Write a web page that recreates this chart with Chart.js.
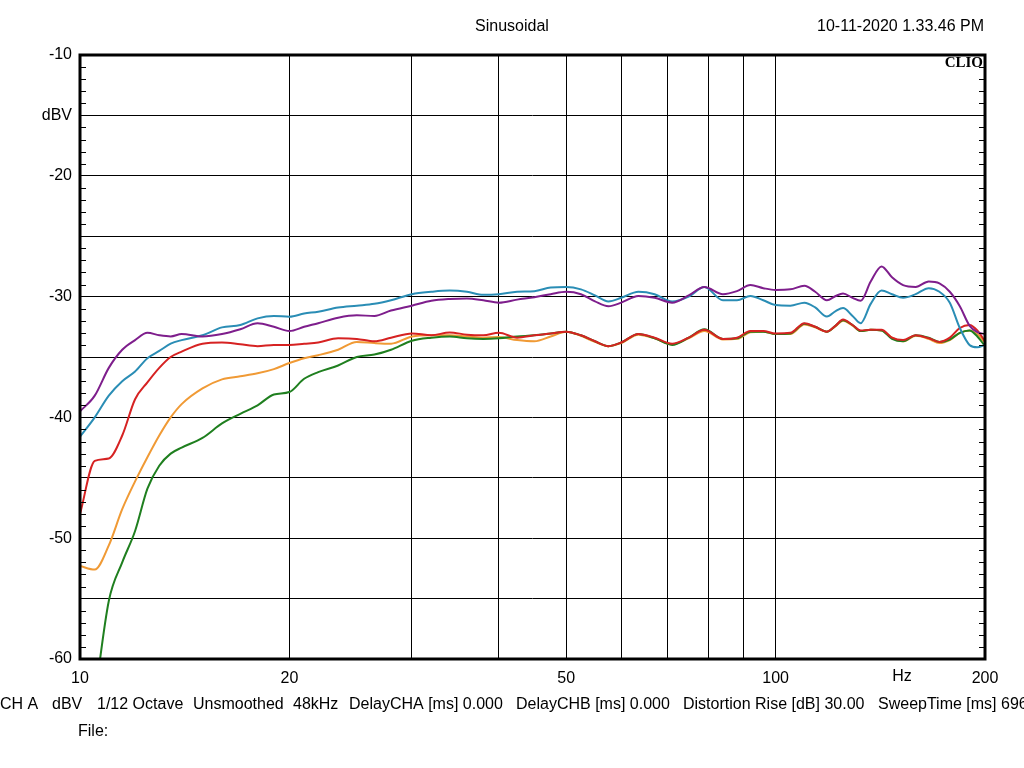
<!DOCTYPE html>
<html>
<head>
<meta charset="utf-8">
<script src="https://cdn.jsdelivr.net/npm/chart.js@4.4.1/dist/chart.umd.min.js"></script>
<style>
  html, body { margin:0; padding:0; background:#fff; }
  canvas { display:block; }
</style>
</head>
<body>
<canvas id="c" width="1024" height="768"></canvas>
<script>
'use strict';

// --- Data (Hz / dBV) ---
const freqs = [10, 10.5, 11, 11.5, 12, 12.5, 13, 13.5, 14, 15, 16, 17, 18, 19, 20, 21, 22, 23.5, 25, 26.5,
  28, 30, 32, 34, 36, 38, 40, 42.5, 45, 47.5, 50, 52.5, 55, 57.5, 60, 63.5, 67, 71, 75, 79,
  84, 88, 92, 96, 100, 105, 110, 114, 118.5, 122, 125, 129, 132.5, 137, 142, 147, 152.5, 159, 166, 172,
  178, 184, 190, 195, 200];

const purple = [-39.5, -38.2, -35.9, -34.4, -33.6, -33.0, -33.2, -33.3, -33.1, -33.3, -33.1, -32.7, -32.2, -32.5, -32.85, -32.5, -32.2, -31.75, -31.55, -31.6,
  -31.15, -30.75, -30.35, -30.2, -30.15, -30.3, -30.5, -30.25, -30.05, -29.8, -29.6, -29.8, -30.4, -30.8, -30.5, -29.95, -30.1, -30.5, -29.9, -29.2,
  -29.8, -29.55, -29.05, -29.3, -29.45, -29.4, -29.1, -29.6, -30.3, -29.95, -29.75, -30.1, -30.35, -28.75, -27.5, -28.4, -29.05, -29.2, -28.75, -28.9,
  -29.6, -30.8, -32.4, -32.95, -33.1];

const cyan = [-41.6, -40.0, -38.2, -37.0, -36.2, -35.1, -34.5, -33.9, -33.6, -33.2, -32.55, -32.35, -31.8, -31.6, -31.66, -31.4, -31.25, -30.9, -30.75, -30.6,
  -30.3, -29.8, -29.6, -29.5, -29.6, -29.85, -29.8, -29.6, -29.55, -29.25, -29.2, -29.4, -29.9, -30.4, -30.1, -29.6, -29.8, -30.4, -30.0, -29.2,
  -30.3, -30.3, -29.95, -30.3, -30.7, -30.75, -30.5, -30.9, -31.65, -31.2, -30.95, -31.6, -32.2, -30.6, -29.5, -29.8, -30.1, -29.8, -29.3, -29.6,
  -30.5, -32.6, -34.0, -34.2, -34.0];

const red = [-48.0, -43.6, -43.4, -41.5, -38.5, -37.1, -35.9, -35.0, -34.55, -33.9, -33.8, -33.95, -34.1, -34.0, -34.0, -33.9, -33.8, -33.45, -33.5, -33.7,
  -33.4, -33.05, -33.2, -32.97, -33.15, -33.2, -33.0, -33.4, -33.2, -33.05, -32.9, -33.2, -33.7, -34.1, -33.8, -33.1, -33.4, -33.9, -33.4, -32.75,
  -33.5, -33.4, -32.85, -32.85, -33.05, -33.0, -32.2, -32.5, -32.9, -32.4, -31.9, -32.35, -32.8, -32.75, -32.75, -33.4, -33.6, -33.2, -33.45, -33.75,
  -33.4, -32.6, -32.35, -32.8, -33.7];

const green = [-72, -63.3, -55.2, -52.0, -49.4, -45.9, -44.0, -43.0, -42.5, -41.7, -40.5, -39.7, -39.0, -38.1, -37.9, -36.8, -36.25, -35.7, -35.0, -34.8,
  -34.4, -33.65, -33.4, -33.3, -33.45, -33.5, -33.45, -33.3, -33.2, -33.05, -32.9, -33.2, -33.7, -34.1, -33.8, -33.1, -33.45, -34.0, -33.4, -32.7,
  -33.5, -33.45, -32.9, -32.9, -33.1, -33.05, -32.25, -32.5, -32.9, -32.4, -31.95, -32.35, -32.85, -32.75, -32.8, -33.5, -33.7, -33.2, -33.4, -33.75,
  -33.55, -33.0, -32.8, -33.3, -34.1];

const orange = [-52.3, -52.6, -50.6, -47.6, -45.3, -43.3, -41.5, -40.0, -38.9, -37.6, -36.85, -36.6, -36.35, -36.0, -35.5, -35.1, -34.85, -34.4, -33.75, -33.85,
  -33.9, -33.3, -33.2, -33.2, -33.3, -33.4, -33.35, -33.6, -33.7, -33.3, -32.9, -33.25, -33.75, -34.1, -33.85, -33.15, -33.45, -33.95, -33.45, -32.85,
  -33.55, -33.5, -32.95, -32.9, -33.1, -33.1, -32.3, -32.55, -32.9, -32.45, -32.0, -32.4, -32.85, -32.75, -32.8, -33.4, -33.7, -33.25, -33.5, -33.85,
  -33.6, -33.0, -32.8, -33.1, -33.8];

const xGrid = [10, 20, 30, 40, 50, 60, 70, 80, 90, 100, 200];
const xLabeled = [10, 20, 50, 100, 200];

const footer = [
  ['CH A', 0], ['dBV', 52], ['1/12 Octave', 97], ['Unsmoothed', 193], ['48kHz', 293],
  ['DelayCHA [ms] 0.000', 349], ['DelayCHB [ms] 0.000', 516],
  ['Distortion Rise [dB] 30.00', 683], ['SweepTime [ms] 696', 878]
];

const FONT = '"Liberation Sans", Arial, sans-serif';

function pts(vals){ return freqs.map((f, i) => ({ x: f, y: vals[i] })); }
function line(vals, color){
  return { data: pts(vals), borderColor: color, borderWidth: 2, pointRadius: 0,
           cubicInterpolationMode: 'monotone', fill: false };
}

// frame, minor ticks and the loose texts
const decor = {
  id: 'decor',
  afterDraw(chart){
    const ctx = chart.ctx, a = chart.chartArea, y = chart.scales.y;
    ctx.save();
    ctx.strokeStyle = '#000';
    ctx.lineWidth = 1;
    ctx.beginPath();
    for(let v = -59; v < -10; v++){
      if(v % 5 === 0) continue;
      const py = Math.round(y.getPixelForValue(v)) + 0.5;
      ctx.moveTo(a.left, py); ctx.lineTo(a.left + 6, py);
      ctx.moveTo(a.right, py); ctx.lineTo(a.right - 6, py);
    }
    ctx.stroke();
    ctx.lineWidth = 3;
    ctx.strokeRect(a.left, a.top, a.right - a.left, a.bottom - a.top);

    ctx.fillStyle = '#000';
    ctx.font = '16px ' + FONT;
    ctx.textBaseline = 'middle';
    ctx.textAlign = 'center';
    ctx.fillText('Sinusoidal', 512, 27);
    ctx.fillText('Hz', 902, 677);
    ctx.textAlign = 'right';
    ctx.fillText('10-11-2020 1.33.46 PM', 984, 27);
    ctx.textAlign = 'left';
    footer.forEach(([t, x]) => ctx.fillText(t, x, 705));
    ctx.fillText('File:', 78, 732);
    ctx.font = 'bold 15px "Liberation Serif", "Times New Roman", serif';
    ctx.textAlign = 'right';
    ctx.fillText('CLIO', 983, 63);
    ctx.restore();
  }
};

new Chart(document.getElementById('c'), {
  type: 'line',
  data: {
    datasets: [
      line(purple, '#7e1e8c'),
      line(cyan, '#2a8db5'),
      line(red, '#d62222'),
      line(green, '#1f7f1f'),
      line(orange, '#f09a35')
    ]
  },
  options: {
    responsive: false,
    animation: false,
    layout: { padding: { top: 55, right: 39, left: 0, bottom: 0 } },
    plugins: { legend: { display: false }, tooltip: { enabled: false } },
    scales: {
      x: {
        type: 'logarithmic', min: 10, max: 200,
        afterBuildTicks: s => { s.ticks = xGrid.map(v => ({ value: v })); },
        afterFit: s => { s.height = 109; },
        grid: { color: '#000', lineWidth: 1, drawTicks: false },
        border: { display: false },
        ticks: {
          autoSkip: false, maxRotation: 0, padding: 10, color: '#000',
          font: { family: FONT, size: 16 },
          callback: v => xLabeled.includes(v) ? String(v) : ''
        }
      },
      y: {
        min: -60, max: -10,
        afterFit: s => { s.width = 80; },
        grid: { color: '#000', lineWidth: 1, drawTicks: false },
        border: { display: false },
        ticks: {
          stepSize: 5, padding: 8, color: '#000',
          font: { family: FONT, size: 16 },
          callback: v => v % 10 === 0 ? String(v) : (v === -15 ? 'dBV' : '')
        }
      }
    }
  },
  plugins: [decor]
});
</script>
</body>
</html>
